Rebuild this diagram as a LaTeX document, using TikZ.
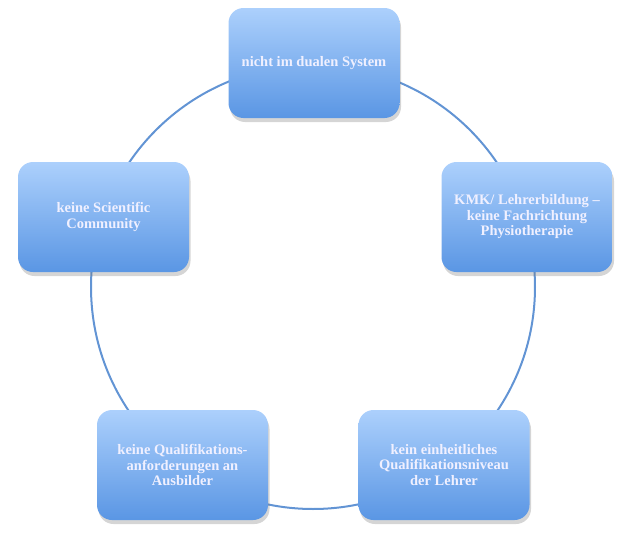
\documentclass[tikz,border=0pt]{standalone}
\usepackage{fontspec}
\setmainfont{Liberation Serif}
\usetikzlibrary{shadows}
\definecolor{boxtop}{RGB}{172,208,252}
\definecolor{boxbot}{RGB}{90,150,228}
\definecolor{ringc}{RGB}{98,148,212}
\tikzset{
  box/.style={rounded corners=15pt, minimum width=171pt, minimum height=110pt,
    top color=boxtop, bottom color=boxbot, draw=none, text=white!94!blue,
    align=center, font=\fontsize{14.5}{15.5}\selectfont\bfseries,
    drop shadow={shadow xshift=1.5pt, shadow yshift=-4pt, opacity=0.3, fill=black!55}},
  ring/.style={draw=ringc, line width=2pt}
}
\begin{document}
\begin{tikzpicture}[x=1pt,y=-1pt]
\useasboundingbox (0,0) rectangle (625,541);
\coordinate (c) at (313,287);
\draw[ring] (c) circle[radius=222pt];
\node[box] (n1) at (314,63) {nicht im dualen System};
\node[box] (n2) at (527,217) {KMK/ Lehrerbildung --\\keine Fachrichtung\\Physiotherapie};
\node[box] (n3) at (444,465) {kein einheitliches\\Qualifikationsniveau\\der Lehrer};
\node[box] (n4) at (182.5,465) {keine Qualifikations-\\anforderungen an\\Ausbilder};
\node[box] (n5) at (103.5,217) {keine Scientific\\Community};
\end{tikzpicture}
\end{document}
